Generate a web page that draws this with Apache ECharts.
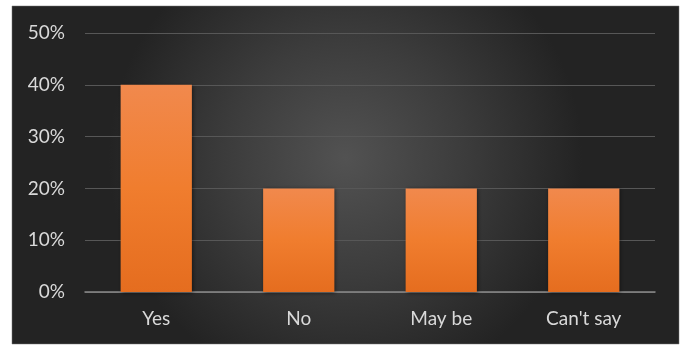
<!DOCTYPE html>
<html><head><meta charset="utf-8">
<script src="https://cdn.jsdelivr.net/npm/echarts@6/dist/echarts.min.js"></script>
<style>html,body{margin:0;padding:0;background:#fff;}#c{width:687px;height:345px;}</style>
</head><body><div id="c"></div>
<script>
const categories = ["Yes", "No", "May be", "Can't say"];
const values = [0.40, 0.20, 0.20, 0.20];
const yTicks = [0, 0.1, 0.2, 0.3, 0.4, 0.5];

const chart = echarts.init(document.getElementById('c'));
chart.setOption({
  animation: false,
  backgroundColor: '#ffffff',
  graphic: [{
    type: 'rect', z: -10, silent: true,
    shape: {x: 12, y: 6, width: 667, height: 338},
    style: {
      fill: new echarts.graphic.RadialGradient(0.5, 0.45, 0.7, [
        {offset: 0, color: '#525252'},
        {offset: 0.5, color: '#3c3c3c'},
        {offset: 1, color: '#232323'}
      ]),
      stroke: '#777', lineWidth: 0.5
    }
  }],
  grid: {left: 85, right: 32, top: 33, bottom: 53},
  xAxis: {
    type: 'category', data: categories,
    axisLine: {lineStyle: {color: '#8a8a8a', width: 1.5}},
    axisTick: {show: false},
    axisLabel: {color: '#d9d9d9', fontSize: 19, fontFamily: 'Lato', margin: 17}
  },
  yAxis: {
    type: 'value', min: 0, max: 0.5, interval: 0.1,
    axisLine: {show: false}, axisTick: {show: false},
    splitLine: {lineStyle: {color: '#575757', width: 1.2}},
    axisLabel: {color: '#d9d9d9', fontSize: 19, fontFamily: 'Lato', margin: 20,
      formatter: v => Math.round(v * 100) + '%'}
  },
  series: [{
    type: 'bar', data: values, barWidth: '50%',
    itemStyle: {
      color: new echarts.graphic.LinearGradient(0, 0, 0, 1, [
        {offset: 0, color: '#f1894d'},
        {offset: 0.5, color: '#f07d2e'},
        {offset: 1, color: '#e56d1f'}
      ]),
      shadowColor: 'rgba(0,0,0,0.5)', shadowBlur: 4, shadowOffsetX: 1, shadowOffsetY: 1
    }
  }]
});
</script></body></html>
